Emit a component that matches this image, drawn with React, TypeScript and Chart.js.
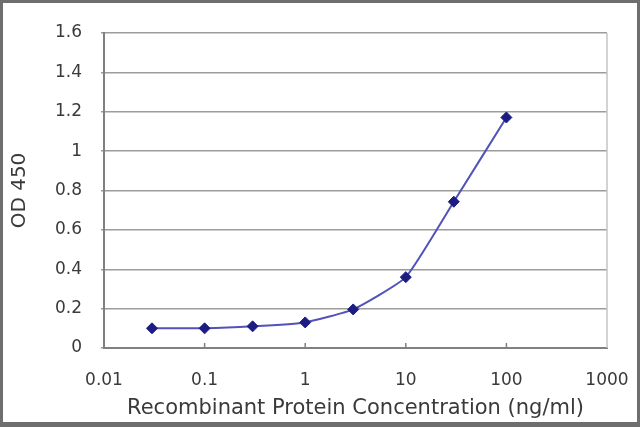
import React, { useEffect, useRef } from "react";
import { Chart, registerables } from "chart.js";

Chart.register(...registerables);

const concentrations = [0.03, 0.1, 0.3, 1, 3, 10, 30, 100];
const odValues = [0.1, 0.1, 0.11, 0.13, 0.196, 0.36, 0.743, 1.171];
const xTickValues = [0.01, 0.1, 1, 10, 100, 1000];
const xTickLabels = ["0.01", "0.1", "1", "10", "100", "1000"];
const xTitle = "Recombinant Protein Concentration (ng/ml)";
const yTitle = "OD 450";

const W = 640;
const H = 427;

const framePlugin = {
  id: "frame",
  beforeDraw(chart: any) {
    const ctx = chart.ctx;
    ctx.save();
    ctx.fillStyle = "#ffffff";
    ctx.fillRect(0, 0, chart.width, chart.height);
    ctx.restore();
  },
  afterDatasetsDraw(chart: any) {
    const ctx = chart.ctx;
    const a = chart.chartArea;
    const xs = chart.scales.x;
    ctx.save();
    ctx.strokeStyle = "#c4c4c4";
    ctx.lineWidth = 1.5;
    ctx.beginPath();
    ctx.moveTo(a.right, a.top);
    ctx.lineTo(a.right, a.bottom);
    ctx.stroke();
    ctx.strokeStyle = "#808080";
    ctx.lineWidth = 1.5;
    xTickValues.slice(1, -1).forEach((v) => {
      const px = xs.getPixelForValue(v);
      ctx.beginPath();
      ctx.moveTo(px, a.bottom);
      ctx.lineTo(px, a.bottom - 5);
      ctx.stroke();
    });
    ctx.restore();
  },
  afterDraw(chart: any) {
    const ctx = chart.ctx;
    ctx.save();
    ctx.strokeStyle = "#6e6e6e";
    ctx.lineWidth = 3;
    ctx.strokeRect(1.5, 1.5, chart.width - 3, chart.height - 3);
    ctx.fillStyle = "#6e6e6e";
    ctx.fillRect(0, chart.height - 5, chart.width, 5);
    ctx.restore();
  },
};

export default function App() {
  const ref = useRef<HTMLCanvasElement | null>(null);

  useEffect(() => {
    if (!ref.current) return;
    const chart = new Chart(ref.current, {
      type: "line",
      data: {
        datasets: [
          {
            data: concentrations.map((c, i) => ({ x: c, y: odValues[i] })),
            borderColor: "#5252b8",
            borderWidth: 2,
            backgroundColor: "#1c1c82",
            pointBackgroundColor: "#1c1c82",
            pointBorderColor: "#1c1c82",
            pointStyle: "rectRot",
            pointRadius: 5.5,
            pointBorderWidth: 1,
            tension: 0.15,
            fill: false,
          },
        ],
      },
      options: {
        responsive: false,
        animation: false,
        devicePixelRatio: 1,
        layout: { padding: { left: 0, right: 33, top: 33, bottom: 0 } },
        plugins: {
          legend: { display: false },
          tooltip: { enabled: false },
        },
        scales: {
          x: {
            type: "logarithmic",
            min: 0.01,
            max: 1000,
            afterBuildTicks: (scale: any) => {
              scale.ticks = xTickValues.map((v) => ({ value: v }));
            },
            afterFit: (scale: any) => {
              scale.height = H - 348;
              scale.paddingLeft = 0;
              scale.paddingRight = 0;
            },
            grid: { display: false, drawTicks: false },
            border: { display: true, color: "#808080", width: 2 },
            ticks: {
              autoSkip: false,
              maxRotation: 0,
              padding: 22,
              color: "#3a3a3a",
              font: { family: "DejaVu Sans", size: 17 },
              callback: (v: any) => {
                const i = xTickValues.indexOf(Number(v));
                return i >= 0 ? xTickLabels[i] : "";
              },
            },
            title: {
              display: true,
              text: xTitle,
              color: "#3a3a3a",
              font: { family: "DejaVu Sans", size: 21 },
              padding: { top: 0, bottom: 6 },
            },
          },
          y: {
            type: "linear",
            min: 0,
            max: 1.6,
            afterFit: (scale: any) => {
              scale.width = 104;
              scale.paddingTop = 0;
              scale.paddingBottom = 0;
            },
            grid: {
              color: "#9c9c9c",
              lineWidth: 1.5,
              drawTicks: true,
              tickLength: 3,
            },
            border: { display: true, color: "#808080", width: 2 },
            ticks: {
              stepSize: 0.2,
              padding: 19,
              color: "#3a3a3a",
              font: { family: "DejaVu Sans", size: 17 },
              callback: (v: any) => String(Math.round(Number(v) * 10) / 10),
            },
            title: {
              display: true,
              text: yTitle,
              color: "#3a3a3a",
              font: { family: "DejaVu Sans", size: 20 },
              padding: { top: 8, bottom: 0 },
            },
          },
        },
      },
      plugins: [framePlugin],
    });
    return () => chart.destroy();
  }, []);

  return (
    <div style={{ position: "fixed", left: 0, top: 0, width: W, height: H }}>
      <canvas ref={ref} width={W} height={H} style={{ width: W, height: H, display: "block" }} />
    </div>
  );
}
